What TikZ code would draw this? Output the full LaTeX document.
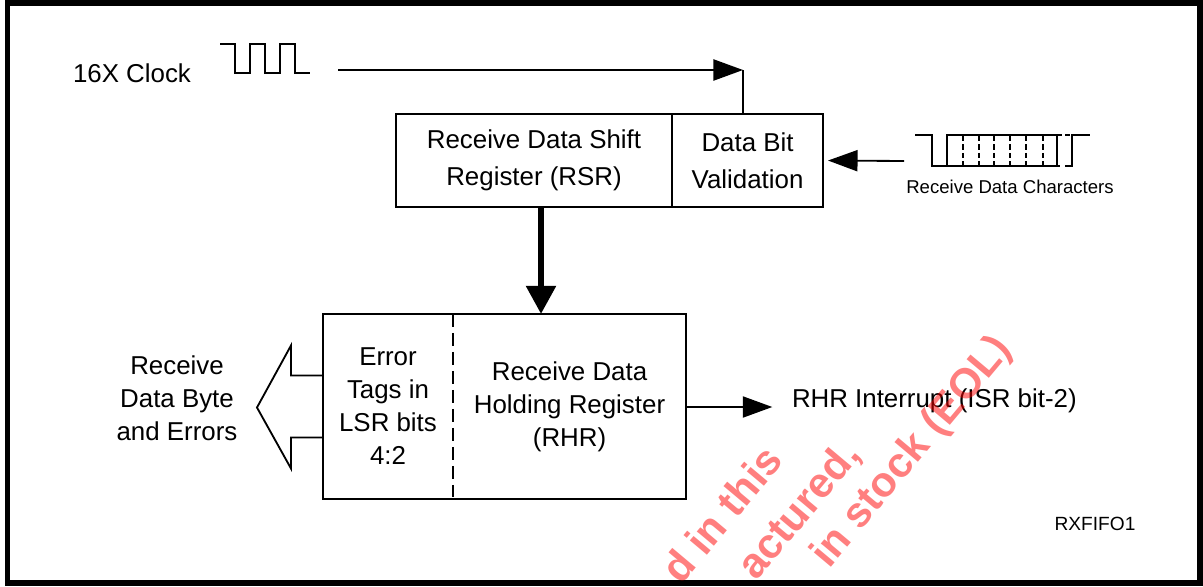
\documentclass[tikz,border=0pt]{standalone}
\usepackage{fontspec}
\setmainfont{Liberation Sans}
\usetikzlibrary{arrows.meta, positioning}

\begin{document}
\begin{tikzpicture}[
        x=0.025cm, y=-0.025cm,
        every node/.style={align=center, inner sep=0pt, outer sep=0pt, font=\fontsize{18.4}{23.5}\selectfont},
        regbox/.style={draw, line width=1.3pt, minimum height=2.325cm, font=\fontsize{18.4}{26}\selectfont},
        holdbox/.style={minimum height=4.625cm},
        arrow/.style={-{Triangle[length=21pt, width=15pt]}, line width=1.3pt},
        bigarrow/.style={-{Triangle[length=20pt, width=20.5pt]}, line width=4.3pt},
        wire/.style={line width=1.3pt},
        divider/.style={line width=1.3pt, dash pattern=on 9pt off 4.5pt},
        tick/.style={line width=1pt, dash pattern=on 3.6pt off 2.4pt},
        smalltxt/.style={font=\fontsize{13.2}{16}\selectfont},
        stamp/.style={font=\fontsize{30}{36}\selectfont\bfseries, text=red, text opacity=0.5, rotate=50, anchor=base east}
    ]
    \useasboundingbox (0,0) rectangle (1203,586);
    \draw[line width=4pt] (7.5,3) rectangle (1200,583);

    % Nodes
    \node (clock) at (132,73) {16X Clock};
    \node[regbox, minimum width=6.9cm] (rsr) at (534,160.5) {Receive Data Shift\\Register (RSR)};
    \node[regbox, minimum width=3.775cm, right=0pt of rsr] (dbv) {Data Bit\\Validation};
    \node[holdbox, minimum width=3.25cm] (errtag) at (388,406.5) {Error\\Tags in\\LSR bits\\4:2};
    \node[holdbox, minimum width=5.825cm, right=0pt of errtag] (rhr) {Receive Data\\Holding Register\\(RHR)};
    \node (rxbyte) at (177,398) {Receive\\Data Byte\\and Errors};
    \node[anchor=base west] (rhrint) at (792,407) {RHR Interrupt (ISR bit-2)};
    \node[smalltxt] (rxchars) at (1010,187) {Receive Data Characters};
    \node[font=\fontsize{13.6}{16}\selectfont] (figid) at (1095,524) {RXFIFO1};
    \coordinate (clkin) at (338,70);
    \coordinate (clkbend) at (743,70);
    \coordinate (rxin) at (904,161);

    % Holding register outline
    \draw[wire] (errtag.north west) rectangle (rhr.south east);
    \draw[divider] (errtag.north east) -- (errtag.south east);

    % Waveforms
    \draw[wire] (220,44) -- (235,44) -- (235,73) -- (250,73) -- (250,44) -- (265,44) -- (265,73)
        -- (280,73) -- (280,44) -- (295,44) -- (295,73) -- (310,73);
    \draw[wire] (915,135) -- (932,135) -- (932,166) -- (1060,166);
    \draw[wire] (947,166) -- (947,135) -- (1057,135) -- (1057,166);
    \foreach \x in {963,979,994,1010,1026,1043}
        \draw[tick] (\x,136) -- (\x,166);
    \draw[tick] (1057,135) -- (1070,135);
    \draw[wire] (1065,166) -- (1072,166) -- (1072,135) -- (1090,135);

    % Connections
    \draw[arrow] (clkin) -- (clkbend);
    \draw[wire] (clkbend) -- (clkbend |- dbv.north);
    \draw[arrow, shorten >=3.5pt] (rxin) -- (dbv.east);
    \draw[bigarrow] ([xshift=0.175cm]rsr.south) -- ([xshift=0.175cm]rsr.south |- rhr.north);
    \draw[arrow, shorten >=14pt] (rhr.east |- rhrint.base) -- (rhrint.base west);
    \draw[wire] (errtag.west) ++(0,-31) -- ++(-32,0) -- ++(0,-30) -- ++(-34,62) -- ++(34,61) -- ++(0,-31) -- ++(32,0);

    % Watermark
    \node[stamp] (eol1) at (785,462) {d in this};
    \node[stamp] (eol2) at (862,456) {actured,};
    \node[stamp] (eol3) at (1013,350) {in stock (EOL)};
\end{tikzpicture}
\end{document}
